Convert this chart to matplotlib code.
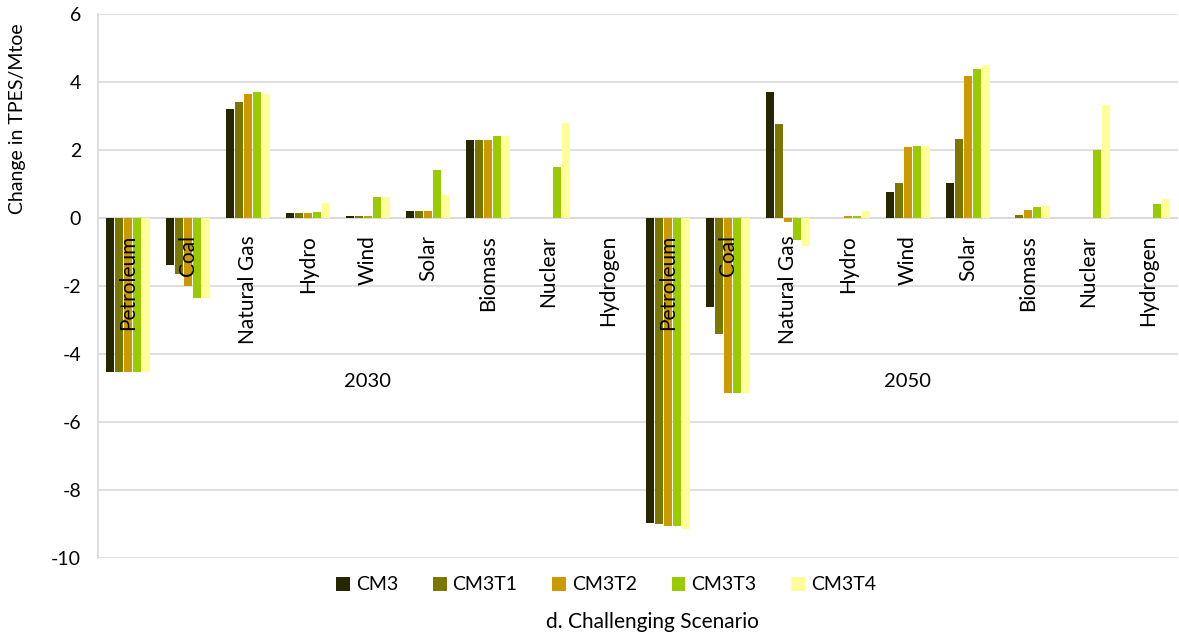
import numpy as np
import matplotlib
matplotlib.use("Agg")
from matplotlib import pyplot as plt
from matplotlib.patches import Patch

plt.rcParams['font.family'] = ['Lato', 'DejaVu Sans']

# energy sources, repeated for each year
sources = ['Petroleum', 'Coal', 'Natural Gas', 'Hydro', 'Wind', 'Solar',
           'Biomass', 'Nuclear', 'Hydrogen']
years = ['2030', '2050']
scenarios = ['CM3', 'CM3T1', 'CM3T2', 'CM3T3', 'CM3T4']
colors = ['#262600', '#7a7800', '#cc9900', '#99cc00', '#ffff99']

# change in TPES (Mtoe): 2030 sources followed by 2050 sources
cm3 = [-4.52, -1.37, 3.21, 0.15, 0.05, 0.20, 2.30, 0.00, 0.00,
       -8.96, -2.62, 3.70, 0.00, 0.78, 1.04, 0.00, 0.00, 0.00]
cm3t1 = [-4.52, -1.65, 3.40, 0.15, 0.05, 0.20, 2.30, 0.00, 0.00,
         -8.99, -3.40, 2.76, 0.00, 1.02, 2.32, 0.08, 0.00, 0.00]
cm3t2 = [-4.52, -1.99, 3.64, 0.15, 0.05, 0.20, 2.30, 0.00, 0.00,
         -9.07, -5.13, -0.13, 0.05, 2.09, 4.17, 0.24, 0.00, 0.00]
cm3t3 = [-4.52, -2.36, 3.70, 0.17, 0.63, 1.42, 2.42, 1.50, 0.00,
         -9.07, -5.13, -0.65, 0.05, 2.11, 4.39, 0.32, 2.00, 0.42]
cm3t4 = [-4.52, -2.36, 3.64, 0.45, 0.63, 0.68, 2.42, 2.81, 0.00,
         -9.13, -5.13, -0.82, 0.20, 2.11, 4.49, 0.35, 3.32, 0.55]

series = [cm3, cm3t1, cm3t2, cm3t3, cm3t4]
labels = sources * len(years)
x = np.arange(len(labels))

fig = plt.figure(figsize=(11.79, 6.4), dpi=100)
ax = fig.add_axes([0.083, 0.128, 0.916, 0.850])

slot = 0.15
for i, (vals, name, c) in enumerate(zip(series, scenarios, colors)):
    ax.bar(x + (i - 2) * slot, vals, width=0.125, color=c, label=name,
           zorder=3, linewidth=0)

ax.set_xlim(-0.5, len(labels) - 0.5)
ax.set_ylim(-10, 6)
ax.set_yticks(np.arange(-10, 7, 2))
ax.set_yticklabels([str(v) for v in range(-10, 7, 2)], fontsize=14)
ax.tick_params(axis='y', length=0, pad=12)
ax.set_xticks([])
ax.grid(axis='y', color='#d9d9d9', linewidth=1.2, zorder=0)
for side in ['top', 'right', 'bottom']:
    ax.spines[side].set_visible(False)
ax.spines['left'].set_color('#d9d9d9')
ax.spines['left'].set_linewidth(1.2)
ax.axhline(0, color='#d9d9d9', linewidth=1.2, zorder=1)

# category labels hang just under the zero line
for xi, lab in zip(x, labels):
    ax.text(xi, -0.5, lab, rotation=90, ha='center', va='top', fontsize=15,
            zorder=4)

# year labels under each block of sources
n = len(sources)
for k, yr in enumerate(years):
    ax.text(k * n + (n - 1) / 2, -4.8, yr, ha='center', va='center',
            fontsize=14.5)

fig.text(18 / 1179, 1 - 119 / 640, 'Change in TPES/Mtoe', rotation=90,
         ha='center', va='center', fontsize=14)

handles = [Patch(facecolor=c, label=s) for s, c in zip(scenarios, colors)]
fig.legend(handles=handles, loc='center', ncol=5, frameon=False,
           bbox_to_anchor=(606 / 1179, 1 - 585 / 640), fontsize=14,
           handlelength=0.7, handleheight=0.7, handletextpad=0.3,
           columnspacing=1.8)

fig.text(652 / 1179, 1 - 622 / 640, 'd. Challenging Scenario', ha='center',
         va='center', fontsize=15)

fig.savefig('out.png', dpi=100)
